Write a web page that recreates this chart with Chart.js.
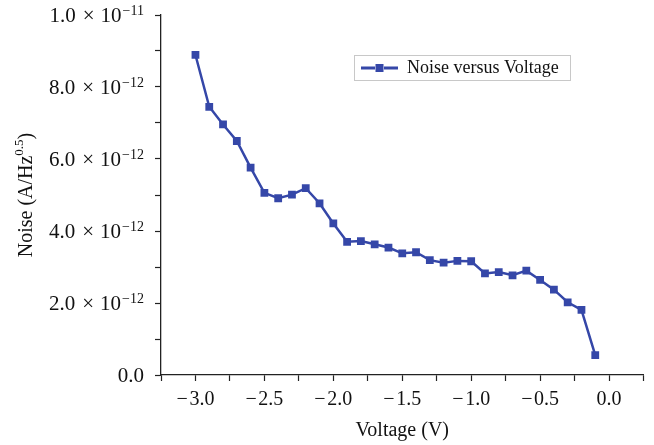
<!DOCTYPE html>
<html lang="en">
<head>
<meta charset="UTF-8">
<title>Noise versus Voltage</title>
<script src="https://cdn.jsdelivr.net/npm/chart.js@4.4.1/dist/chart.umd.min.js"></script>
<style>
  html, body { margin: 0; padding: 0; background: #fff; }
  #wrap { width: 654px; height: 445px; }
</style>
</head>
<body>
<div id="wrap"><canvas id="chart" width="654" height="445"></canvas></div>
<script>
// data
const voltage = [-3.0, -2.9, -2.8, -2.7, -2.6, -2.5, -2.4, -2.3, -2.2, -2.1,
                 -2.0, -1.9, -1.8, -1.7, -1.6, -1.5, -1.4, -1.3, -1.2, -1.1,
                 -1.0, -0.9, -0.8, -0.7, -0.6, -0.5, -0.4, -0.3, -0.2, -0.1];
// noise in units of 1e-12 A/Hz^0.5
const noise = [8.89, 7.45, 6.96, 6.50, 5.76, 5.06, 4.91, 5.01, 5.19, 4.77,
               4.21, 3.70, 3.72, 3.63, 3.54, 3.38, 3.41, 3.19, 3.12, 3.17,
               3.16, 2.82, 2.86, 2.77, 2.90, 2.64, 2.37, 2.02, 1.81, 0.55];
const seriesName = 'Noise versus Voltage';
const yLabelValues = [0, 2, 4, 6, 8, 10];   // x 1e-12
const xLabelValues = [-3.0, -2.5, -2.0, -1.5, -1.0, -0.5, 0.0];

const blue = '#3547a8';
const axisColor = '#222';
const serif = '"Liberation Serif", "DejaVu Serif", serif';

const points = voltage.map((v, i) => ({ x: v, y: noise[i] * 1e-12 }));

// math style minus with a hair of room after it
function minus(s) { return s.replace('-', '\u2212\u200a'); }

// y tick labels with superscript exponents, title, and boxed legend
const extras = {
  id: 'extras',
  afterDraw(chart) {
    const ctx = chart.ctx;
    const ys = chart.scales.y;
    ctx.save();
    ctx.fillStyle = '#111';
    ctx.textAlign = 'left';
    yLabelValues.forEach(v => {
      const py = ys.getPixelForValue(v * 1e-12);
      const right = 144;
      if (v === 0) {
        ctx.font = '21px ' + serif;
        ctx.textBaseline = 'middle';
        ctx.textAlign = 'right';
        ctx.fillText('0.0', right, py + 1);
        ctx.textAlign = 'left';
        return;
      }
      const mant = v === 10 ? '1.0' : v.toFixed(1);
      const exp = v === 10 ? '\u221211' : '\u221212';
      ctx.font = '14px ' + serif;
      const ew = ctx.measureText(exp).width;
      ctx.font = '21px ' + serif;
      const w10 = ctx.measureText('10').width;
      const wx = ctx.measureText('\u00d7').width;
      const wm = ctx.measureText(mant).width;
      let x = right - ew;
      ctx.font = '14px ' + serif;
      ctx.textBaseline = 'alphabetic';
      ctx.fillText(exp, x, py);
      ctx.font = '21px ' + serif;
      ctx.textBaseline = 'middle';
      x -= w10 + 1;
      ctx.fillText('10', x, py + 1);
      x -= wx + 6;
      ctx.fillText('\u00d7', x, py + 1);
      x -= wm + 7;
      ctx.fillText(mant, x, py + 1);
    });

    // y axis title
    const cy = (chart.chartArea.top + chart.chartArea.bottom) / 2;
    ctx.translate(27, cy);
    ctx.rotate(-Math.PI / 2);
    ctx.textBaseline = 'middle';
    ctx.font = '20px ' + serif;
    const a = 'Noise (A/Hz', b = '0.5', c = ')';
    const wa = ctx.measureText(a).width, wc = ctx.measureText(c).width;
    ctx.font = '13px ' + serif;
    const wb = ctx.measureText(b).width;
    let x0 = -(wa + wb + wc) / 2;
    ctx.textAlign = 'left';
    ctx.font = '20px ' + serif;
    ctx.fillText(a, x0, 0);
    ctx.font = '13px ' + serif;
    ctx.fillText(b, x0 + wa, -7);
    ctx.font = '20px ' + serif;
    ctx.fillText(c, x0 + wa + wb, 0);
    ctx.restore();

    // legend
    ctx.save();
    ctx.strokeStyle = '#c8c8c8';
    ctx.lineWidth = 1;
    ctx.strokeRect(354.5, 55.5, 216, 25);
    ctx.strokeStyle = blue;
    ctx.lineWidth = 3;
    ctx.beginPath();
    ctx.moveTo(361, 68); ctx.lineTo(375, 68);
    ctx.moveTo(384, 68); ctx.lineTo(398, 68);
    ctx.stroke();
    ctx.fillStyle = blue;
    ctx.fillRect(375.5, 64, 8, 8);
    ctx.fillStyle = '#111';
    ctx.font = '18px ' + serif;
    ctx.textAlign = 'left';
    ctx.textBaseline = 'middle';
    ctx.fillText(seriesName, 407, 68.5);
    ctx.restore();
  }
};

new Chart(document.getElementById('chart'), {
  type: 'scatter',
  data: {
    datasets: [{
      label: seriesName,
      data: points,
      showLine: true,
      borderColor: blue,
      backgroundColor: blue,
      borderWidth: 2.5,
      pointStyle: 'rect',
      pointRadius: 5.5,
      pointHoverRadius: 5.5,
      pointBorderWidth: 0,
      tension: 0
    }]
  },
  options: {
    responsive: false,
    animation: false,
    layout: { padding: { left: 0, right: 10.5, top: 15, bottom: 0 } },
    plugins: { legend: { display: false }, tooltip: { enabled: false } },
    scales: {
      x: {
        type: 'linear',
        min: -3.25,
        max: 0.25,
        afterFit(scale) { scale.height = 70; },
        border: { color: axisColor, width: 1.3 },
        grid: { drawOnChartArea: false, tickLength: 6, tickColor: axisColor, tickWidth: 1.2 },
        ticks: {
          stepSize: 0.25,
          autoSkip: false,
          maxRotation: 0,
          padding: 7,
          color: '#111',
          font: { family: serif, size: 20 },
          callback(v) {
            const hit = xLabelValues.find(t => Math.abs(t - v) < 1e-6);
            if (hit === undefined) return '';
            return hit === 0 ? '0.0' : minus(hit.toFixed(1));
          }
        },
        title: {
          display: true,
          text: 'Voltage (V)',
          color: '#111',
          font: { family: serif, size: 20 },
          padding: { top: 0, bottom: 2 }
        }
      },
      y: {
        min: 0,
        max: 1e-11,
        afterFit(scale) { scale.width = 161; },
        border: { color: axisColor, width: 1.3 },
        grid: { drawOnChartArea: false, tickLength: 6, tickColor: axisColor, tickWidth: 1.2 },
        ticks: {
          stepSize: 1e-12,
          autoSkip: false,
          callback() { return ''; }
        }
      }
    }
  },
  plugins: [extras]
});
</script>
</body>
</html>
